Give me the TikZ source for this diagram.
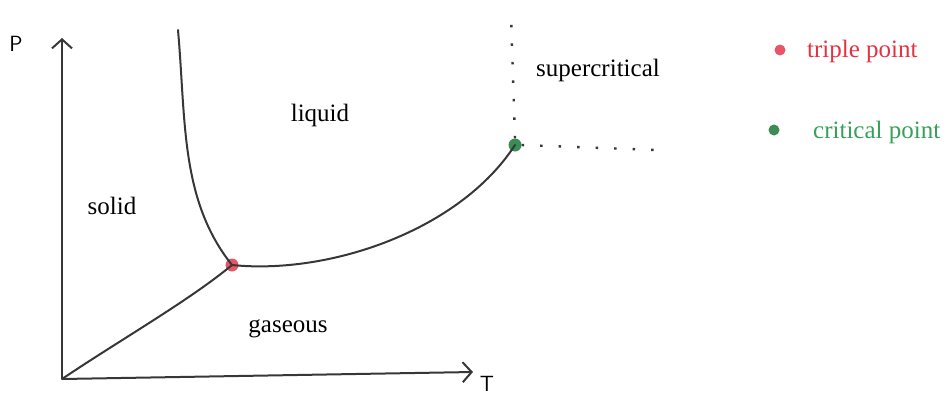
\documentclass[tikz,border=0pt]{standalone}
\usepackage{fontspec}
\setmainfont{Liberation Serif}
\usetikzlibrary{arrows.meta}
\definecolor{ink}{RGB}{55,55,55}
\definecolor{tpred}{RGB}{228,50,65}
\definecolor{tpdot}{RGB}{232,85,105}
\definecolor{cpgreen}{RGB}{55,160,90}
\definecolor{cpdot}{RGB}{60,140,85}
\tikzset{
  curve/.style={ink, line width=2pt, line cap=round},
  axis/.style={ink, line width=2pt, -{Straight Barb[length=9pt,width=20pt,line width=2pt]}},
  dots/.style={ink, line width=2.4pt, dash pattern=on 2.5pt off 16pt},
  lbl/.style={font=\fontsize{25}{29}\selectfont, text=black, inner sep=0pt},
  ptdot/.style={circle, inner sep=0pt, minimum size=13pt},
}
\begin{document}
\begin{tikzpicture}[x=1pt,y=-1pt]
\useasboundingbox (0,0) rectangle (952,394);
% key points
\coordinate (O) at (62,379);
\coordinate (Ptop) at (62,38);
\coordinate (Tend) at (473,372);
\coordinate (SL) at (178,30);
\node[ptdot, fill=tpdot] (tp) at (232,265) {};
\node[ptdot, fill=cpdot] (cp) at (515,145) {};
\coordinate (vtop) at (511,16);
\coordinate (hend) at (656,150);
% axes
\draw[axis] (O) -- (Ptop);
\draw[axis] (O) -- (Tend);
\node[lbl, font=\sffamily\fontsize{22}{26}\selectfont] (P) at (16,44) {P};
\node[lbl, font=\sffamily\fontsize{22}{26}\selectfont] (T) at (487,384) {T};
% phase boundaries
\draw[curve] (SL) .. controls (186,120) and (180,200) .. (tp.center);
\draw[curve] (tp.center) .. controls (330,275) and (460,230) .. (cp.center);
\draw[curve] (O) .. controls (120,340) and (190,300) .. (tp.center);
% dotted lines
\draw[dots] (cp.north) -- (vtop);
\draw[dots] (cp.east) -- (hend);
% region labels
\node[lbl] (sup) at (598,70) {supercritical};
\node[lbl] (liq) at (320,115) {liquid};
\node[lbl] (sol) at (112,206) {solid};
\node[lbl] (gas) at (288,329) {gaseous};
% legend
\node[ptdot, fill=tpdot, minimum size=11pt] (ltp) at (780,50) {};
\node[lbl, text=tpred, anchor=west] (ltpt) at (807,51) {triple point};
\node[ptdot, fill=cpdot, minimum size=11pt] (lcp) at (774,130) {};
\node[lbl, text=cpgreen, anchor=west] (lcpt) at (813,132) {critical point};
\end{tikzpicture}
\end{document}
